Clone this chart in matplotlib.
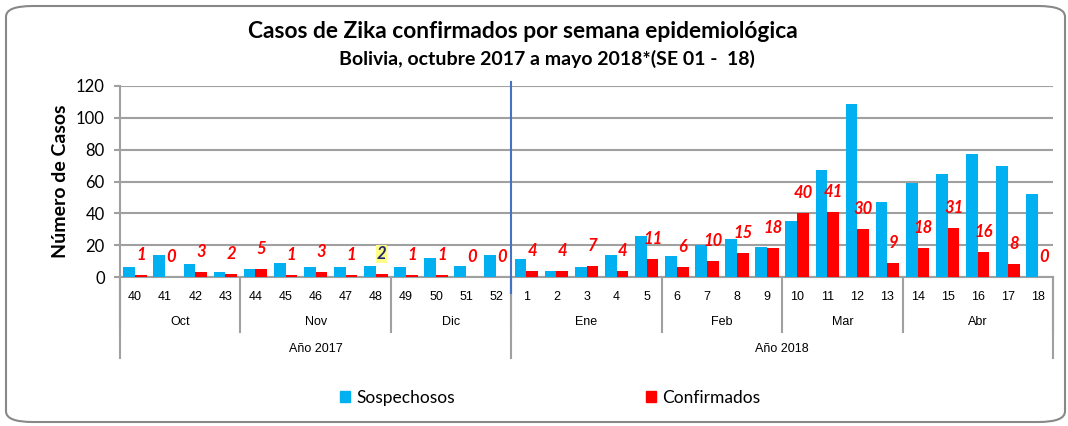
import numpy as np
import matplotlib.pyplot as plt
import matplotlib.transforms as mtransforms
from matplotlib.patches import FancyBboxPatch, Patch

# Data
semanas = ['40', '41', '42', '43', '44', '45', '46', '47', '48', '49', '50', '51', '52',
           '1', '2', '3', '4', '5', '6', '7', '8', '9', '10', '11', '12', '13', '14', '15', '16', '17', '18']
sospechosos = [6, 14, 8, 3, 5, 9, 6, 6, 7, 6, 12, 7, 14,
               11, 4, 6, 14, 26, 13, 20, 24, 19, 35, 67, 109, 47, 59, 65, 77, 70, 52]
confirmados = [1, 0, 3, 2, 5, 1, 3, 1, 2, 1, 1, 0, 0,
               4, 4, 7, 4, 11, 6, 10, 15, 18, 40, 41, 30, 9, 18, 31, 16, 8, 0]
meses = ['Oct', 'Nov', 'Dic', 'Ene', 'Feb', 'Mar', 'Abr']
semanas_por_mes = [4, 5, 4, 5, 4, 4, 5]
anios = ['Año 2017', 'Año 2018']
semanas_por_anio = [13, 18]

AZUL = '#00B0F0'
ROJO = '#FF0000'
GRIS = '#A0A0A0'
CAL = 'Lato'
ARIAL = 'Liberation Sans'

fig = plt.figure(figsize=(10.68, 4.26), dpi=100)
ax = fig.add_axes([120 / 1068, 1 - 277 / 426, (1053 - 120) / 1068, (277 - 86) / 426])

x = np.arange(len(semanas))
w = 0.39
ax.bar(x - w / 2, sospechosos, width=w, color=AZUL, label='Sospechosos', zorder=3)
ax.bar(x + w / 2, confirmados, width=w, color=ROJO, label='Confirmados', zorder=3)

# value labels of confirmed cases (week 48 is highlighted in the original)
for i, v in enumerate(confirmados):
    if semanas[i] == '48' and i < 13:
        ax.annotate(str(v), (i + w / 2, v), xytext=(0, 14.4), textcoords='offset points',
                    ha='center', va='center', fontsize=12, fontweight='bold', fontstyle='italic',
                    color='#1F2A6B', family=CAL, zorder=5,
                    bbox=dict(boxstyle='square,pad=0.05', fc='#FFFF88', ec='none'))
    else:
        ax.annotate(str(v), (i + w / 2, v), xytext=(0, 14.4), textcoords='offset points',
                    ha='center', va='center', fontsize=12, fontweight='bold', fontstyle='italic',
                    color=ROJO, family=CAL, zorder=5)

ax.set_xlim(-0.5, len(semanas) - 0.5)
ax.set_ylim(0, 120)
ax.set_yticks(np.arange(0, 121, 20))
ax.yaxis.grid(True, color=GRIS, linewidth=1.5, zorder=0)
ax.set_axisbelow(True)
for s in ['top', 'right']:
    ax.spines[s].set_visible(False)
for s in ['left', 'bottom']:
    ax.spines[s].set_color(GRIS)
    ax.spines[s].set_linewidth(1.5)
ax.tick_params(axis='y', length=4, color=GRIS, width=1.5, labelsize=12, pad=7)
for lab in ax.get_yticklabels():
    lab.set_family(CAL)
ax.set_xticks([])
ax.set_ylabel('Número de Casos', fontsize=14, fontweight='bold', family=CAL, labelpad=5)

# multi level category axis
trans = mtransforms.blended_transform_factory(ax.transData, ax.transAxes)
for i, s in enumerate(semanas):
    ax.text(i, -0.105, s, transform=trans, ha='center', va='center', fontsize=9, family=ARIAL)

limites_mes = np.concatenate([[0], np.cumsum(semanas_por_mes)])
for k, m in enumerate(meses):
    c = (limites_mes[k] + limites_mes[k + 1] - 1) / 2
    ax.text(c, -0.236, m, transform=trans, ha='center', va='center', fontsize=9, family=ARIAL)
for b in limites_mes:
    ax.plot([b - 0.5, b - 0.5], [0, -0.288], transform=trans, color=GRIS, lw=1.5, clip_on=False)

limites_anio = np.concatenate([[0], np.cumsum(semanas_por_anio)])
for k, a in enumerate(anios):
    c = (limites_anio[k] + limites_anio[k + 1] - 1) / 2
    ax.text(c, -0.377, a, transform=trans, ha='center', va='center', fontsize=9, family=ARIAL)
for b in limites_anio:
    ax.plot([b - 0.5, b - 0.5], [0, -0.424], transform=trans, color=GRIS, lw=1.5, clip_on=False)

# year divider
ax.plot([12.5, 12.5], [1.02, -0.084], transform=trans, color='#4472C4', lw=1.5, clip_on=False, zorder=6)

fig.text(523 / 1068, 1 - 32 / 426, 'Casos de Zika confirmados por semana epidemiológica',
         ha='center', va='center', fontsize=16.4, fontweight='bold', family=CAL)
fig.text(547 / 1068, 1 - 59 / 426, 'Bolivia, octubre 2017 a mayo 2018*(SE 01 -  18)',
         ha='center', va='center', fontsize=14, fontweight='bold', family=CAL)

handles = [Patch(color=AZUL, label='Sospechosos'), Patch(color=ROJO, label='Confirmados')]
fig.legend(handles=handles, loc='center', bbox_to_anchor=(550 / 1068, 1 - 398 / 426), ncol=2,
           frameon=False, prop={'family': CAL, 'size': 12.5}, handlelength=0.6, handleheight=0.6,
           handletextpad=0.35, columnspacing=11)

fig.add_artist(FancyBboxPatch((6 / 1068, 4 / 426), 1059 / 1068, 416 / 426,
                              boxstyle='round,pad=0,rounding_size=0.025', transform=fig.transFigure,
                              fc='none', ec='#888888', lw=1.5))

fig.savefig('out.png', dpi=100)
